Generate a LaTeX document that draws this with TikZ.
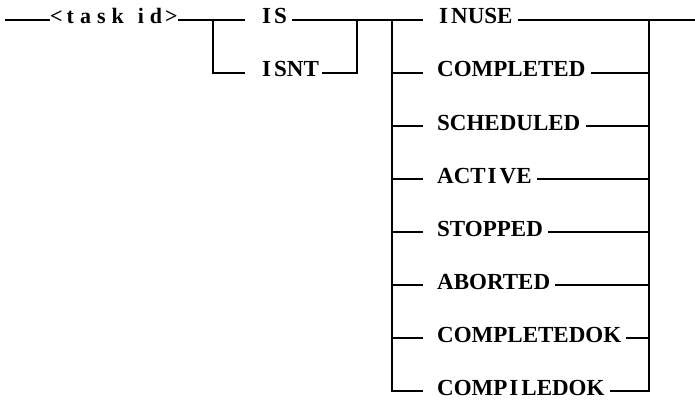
\documentclass[tikz,border=0pt]{standalone}
\usepackage{fontspec}
\setmainfont{Liberation Serif}
\usetikzlibrary{positioning}

\tikzset{
  rail/.style={line width=1.8pt},
  kw/.style={font=\bfseries\fontsize{23}{25}\selectfont, inner sep=0pt,
    anchor=west, text height=12pt, text depth=4pt},
  nt/.style={font=\bfseries\fontsize{22}{24}\selectfont, inner sep=0pt,
    anchor=west, text height=8pt, text depth=0pt},
}
% the typewriter-like gap around a capital I
\newcommand{\wI}{\kern2pt I\kern3pt}

\begin{document}
\begin{tikzpicture}[x=1pt,y=-1pt]
    \useasboundingbox (0,0) rectangle (695,401);
    % entry and the non-terminal
    \coordinate (start) at (5,20);
    \node[nt] (taskid) at (50,20)
      {<\kern4pt t\kern6pt a\kern6pt s\kern6pt k\kern14pt i\kern6pt d\kern3pt >};
    \draw[rail] (start) -- (taskid.west);
    % IS / ISNT choice
    \coordinate (isfork) at (213,20);
    \coordinate (isjoin) at (357,20);
    \node[kw] (is) at (260,20) {\wI S};
    \node[kw] (isnt) at (260,73) {\wI SNT};
    \draw[rail] (taskid.east) -- ([xshift=-15pt]is.west);
    \draw[rail] ([xshift=5pt]is.east) -- (isjoin);
    \draw[rail] (isfork) |- ([xshift=-15pt]isnt.west);
    \draw[rail] ([xshift=3pt]isnt.east) -| (isjoin);
    % status choice
    \coordinate (stfork) at (392,20);
    \coordinate (stjoin) at (649,20);
    \coordinate (exit) at (695,20);
    \node[kw] (inuse) at (437,20) {\wI NUSE};
    \node[kw] (completed) at (437,73) {COMPLETED};
    \node[kw] (scheduled) at (437,126) {SCHEDULED};
    \node[kw] (active) at (437,179) {ACT\wI VE};
    \node[kw] (stopped) at (437,232) {STOPPED};
    \node[kw] (aborted) at (437,285) {ABORTED};
    \node[kw] (completedok) at (437,338) {COMPLETEDOK};
    \node[kw] (compiledok) at (437,391) {COMP\wI LEDOK};
    \draw[rail] (isjoin) -- ([xshift=-14pt]inuse.west);
    \draw[rail] ([xshift=5pt]inuse.east) -- (exit);
    \draw[rail] (stfork) |- ([xshift=-14pt]compiledok.west);
    \draw[rail] ([xshift=5pt]compiledok.east) -| (stjoin);
    \draw[rail] (stfork |- completed) -- ([xshift=-14pt]completed.west);
    \draw[rail] (stfork |- scheduled) -- ([xshift=-14pt]scheduled.west);
    \draw[rail] (stfork |- active) -- ([xshift=-14pt]active.west);
    \draw[rail] (stfork |- stopped) -- ([xshift=-14pt]stopped.west);
    \draw[rail] (stfork |- aborted) -- ([xshift=-14pt]aborted.west);
    \draw[rail] (stfork |- completedok) -- ([xshift=-14pt]completedok.west);
    \draw[rail] ([xshift=5pt]completed.east) -- (stjoin |- completed);
    \draw[rail] ([xshift=5pt]scheduled.east) -- (stjoin |- scheduled);
    \draw[rail] ([xshift=5pt]active.east) -- (stjoin |- active);
    \draw[rail] ([xshift=5pt]stopped.east) -- (stjoin |- stopped);
    \draw[rail] ([xshift=5pt]aborted.east) -- (stjoin |- aborted);
    \draw[rail] ([xshift=5pt]completedok.east) -- (stjoin |- completedok);
    \draw[rail] (stjoin) -- (stjoin |- compiledok);
\end{tikzpicture}
\end{document}
